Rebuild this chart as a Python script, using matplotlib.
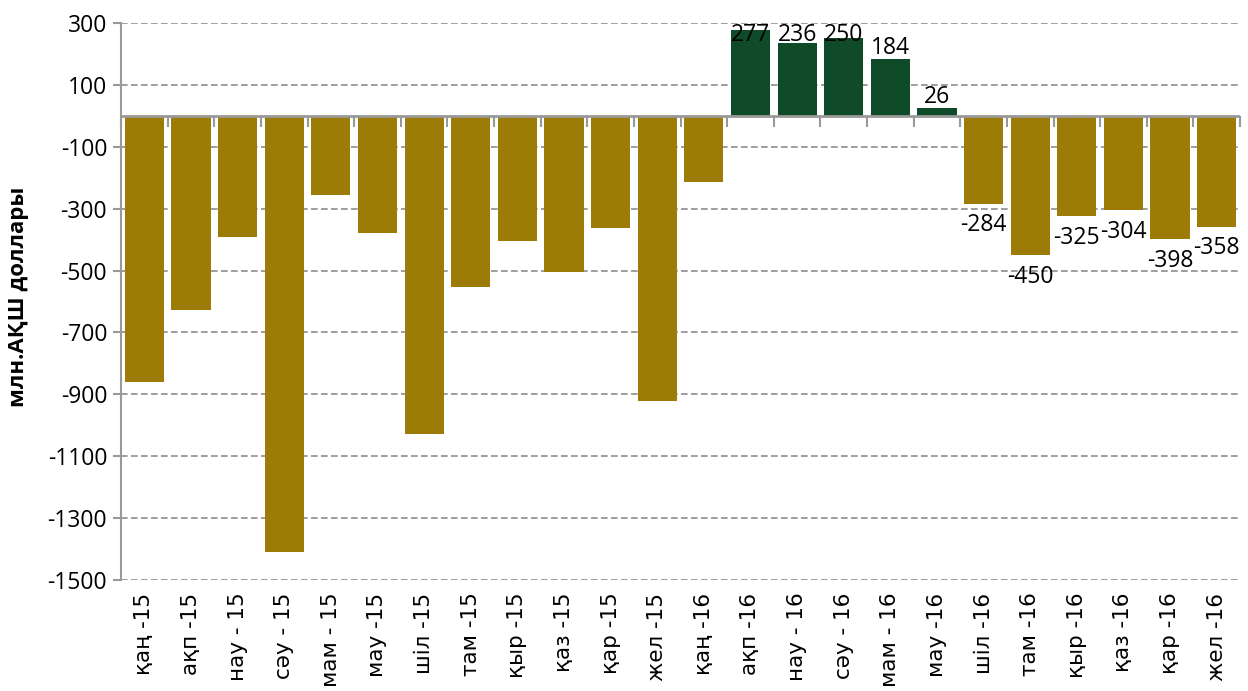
import numpy as np
import matplotlib.pyplot as plt

# айлар мен мәндер (млн. АҚШ доллары)
months = ['қаң -15', 'ақп -15', 'нау - 15', 'сәу - 15', 'мам - 15', 'мау -15',
          'шіл -15', 'там -15', 'қыр -15', 'қаз -15', 'қар -15', 'жел -15',
          'қаң -16', 'ақп -16', 'нау - 16', 'сәу - 16', 'мам - 16', 'мау -16',
          'шіл -16', 'там -16', 'қыр -16', 'қаз -16', 'қар -16', 'жел -16']
values = [-861, -626, -390, -1410, -255, -377, -1029, -552, -406, -506, -361, -922,
          -213, 277, 236, 250, 184, 26, -284, -450, -325, -304, -398, -358]
first_labeled = 13  # жазулар ақп -16 бастап

gold = '#9C7B07'
green = '#0F4B29'
grey = '#999999'

plt.rcParams['axes.unicode_minus'] = False

fig = plt.figure(figsize=(12.48, 6.91), dpi=100)
ax = fig.add_axes([0.097, 0.1606, 0.8966, 0.8061])

x = np.arange(len(values))
colors = [green if v > 0 else gold for v in values]
ax.bar(x, values, width=0.84, color=colors, zorder=3)

ax.set_ylim(-1500, 300)
ax.set_xlim(-0.5, len(values) - 0.5)
ax.set_yticks(np.arange(300, -1501, -200))
ax.yaxis.grid(True, color='#8c8c8c', linestyle=(0, (4, 2)), linewidth=1.2, zorder=0)

for side in ['top', 'right', 'bottom']:
    ax.spines[side].set_visible(False)
ax.spines['left'].set_color(grey)
ax.spines['left'].set_linewidth(1.5)
ax.tick_params(axis='y', length=6, width=1.5, color=grey, labelsize=16.5, pad=4)
for lbl in ax.get_yticklabels():
    lbl.set_family('Open Sans')

ax.set_xticks(x)
ax.set_xticklabels(months, rotation=90, fontsize=15.5, family='DejaVu Sans')
ax.tick_params(axis='x', length=0, pad=9)

# нөл сызығы, санаттар арасында белгілері бар
ax.axhline(0, color=grey, linewidth=2, zorder=4)
zero_pos = (0 - (-1500)) / (300 - (-1500))
sec = ax.secondary_xaxis(zero_pos)
sec.set_xticks(np.arange(-0.5, len(values) + 0.5, 1))
sec.tick_params(axis='x', direction='out', length=8, width=1.5, color=grey,
                labelbottom=False, labeltop=False, bottom=True, top=False)
sec.spines['bottom'].set_visible(False)
sec.spines['top'].set_visible(False)

for i in range(first_labeled, len(values)):
    v = values[i]
    if v > 0:
        ax.annotate(str(v), (x[i], min(v + 35, 262)), ha='center', va='center',
                    fontsize=16.5, family='Open Sans', zorder=5)
    else:
        ax.annotate(str(v), (x[i], v), xytext=(0, -7), textcoords='offset points',
                    ha='center', va='top', fontsize=16.5, family='Open Sans', zorder=5)

fig.text(0.015, 0.57, 'млн.АҚШ доллары', rotation=90, ha='center', va='center',
         fontsize=16, fontweight='bold', family='Open Sans')

fig.savefig('out.png', dpi=100)
